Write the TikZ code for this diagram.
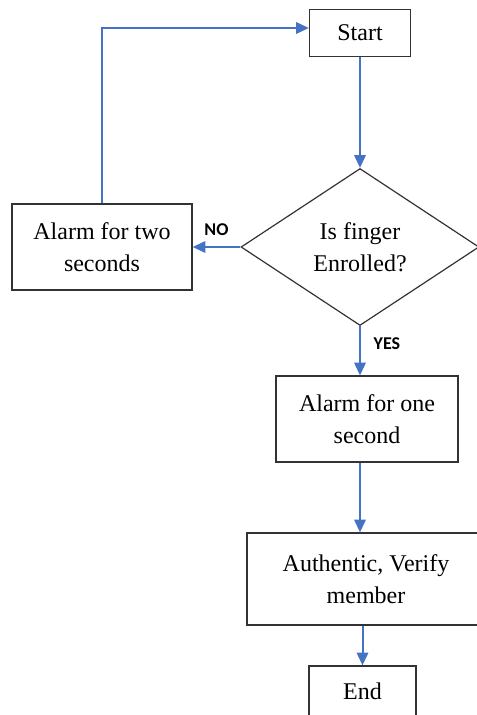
\documentclass[tikz,border=0pt]{standalone}
\usepackage{fontspec}
\setmainfont{Liberation Serif}
\newfontfamily\lblfont{Carlito}
\usepackage{tikz}
\usetikzlibrary{shapes.geometric,arrows.meta}
\definecolor{arrowblue}{RGB}{68,114,196}

\begin{document}
\begin{tikzpicture}[x=0.75pt,y=-0.75pt,
	box/.style={draw=black!80,line width=0.9pt,rectangle,inner sep=0pt,align=center,font=\fontsize{18}{24}\selectfont},
	flow/.style={draw=arrowblue,line width=1.5pt,-{Triangle[length=9.5pt,width=8.5pt]}},
	yn/.style={inner sep=0pt,font=\lblfont\bfseries\fontsize{13.5}{16}\selectfont}]
				\useasboundingbox (0,0) rectangle (477,715);
				\node[box,minimum width=75.75pt,minimum height=35.25pt] (start) at (360,33) {Start};
				\node[box,diamond,aspect=1.52,minimum width=178.5pt,minimum height=117.75pt] (dec) at (360,247) {Is finger\\Enrolled?};
				\node[box,minimum width=135pt,minimum height=64.5pt] (two) at (102,247) {Alarm for two\\seconds};
				\node[box,minimum width=136.5pt,minimum height=64.5pt] (one) at (367,419) {Alarm for one\\second};
				\node[box,minimum width=178.5pt,minimum height=69pt] (auth) at (366,579) {Authentic, Verify\\member};
				\node[box,minimum width=80.25pt,minimum height=37.5pt] (end) at (362.5,691) {End};
				\draw[flow] (start) -- (dec);
				\draw[flow] (dec) -- node[yn,above=8pt] {NO} (two);
				\draw[flow] (two) |- ([yshift=3.75pt]start.west);
				\draw[flow] (dec) -- node[yn,right=9.5pt,pos=0.36] {YES} (dec |- one.north);
				\draw[flow] (one.south -| dec) -- (auth.north -| dec);
				\draw[flow] (auth.south -| end) -- (end);
			\end{tikzpicture}
\end{document}
